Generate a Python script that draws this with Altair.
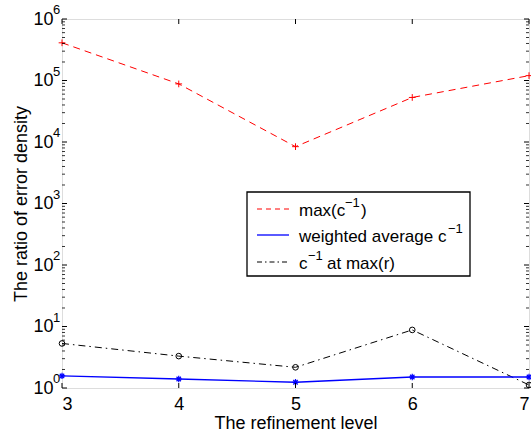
import altair as alt
import pandas as pd

# Refinement levels and the three ratio series (log scale)
levels = [3, 4, 5, 6, 7]
max_c_inv = [4.1e5, 8.8e4, 8.4e3, 5.3e4, 1.2e5]
weighted_avg_c_inv = [1.57, 1.40, 1.24, 1.51, 1.51]
c_inv_at_max_r = [5.3, 3.3, 2.17, 8.8, 1.12]

series_names = ["max", "weighted", "atmaxr"]
legend_rows = [
    ["max(c", "\u22121", ")"],
    ["weighted average c", "\u22121", ""],
    ["c", "\u22121", "at max(r)"],
]

y_major = [1, 10, 100, 1000, 10000, 100000, 1000000]
y_exponents = ["0", "1", "2", "3", "4", "5", "6"]
y_minor = [m * 10 ** k for k in range(6) for m in range(2, 10)]

W, H = 467, 369
FONT = "Liberation Sans"

df = pd.DataFrame({
    "level": levels * 3,
    "value": max_c_inv + weighted_avg_c_inv + c_inv_at_max_r,
    "series": sum([[s] * len(levels) for s in series_names], []),
})

xs = alt.Scale(domain=[3, 7], nice=False, zero=False)
ys = alt.Scale(type="log", domain=[1, 1e6], nice=False)

x_enc = alt.X("level:Q", scale=xs, axis=alt.Axis(
    values=levels, format="d", tickSize=0, grid=False, domain=False,
    labelFontSize=18, labelPadding=7, labelColor="black", labelFont=FONT,
    title="The refinement level", titleFontSize=18, titleFontWeight="normal",
    titleFont=FONT, titleColor="black", titlePadding=1))
y_enc = alt.Y("value:Q", scale=ys, axis=alt.Axis(
    values=y_major, labelExpr="'10'", tickSize=0, grid=False, domain=False,
    labelFontSize=18, labelPadding=9, labelColor="black", labelFont=FONT,
    labelBaseline="middle",
    title="The ratio of error density", titleFontSize=18, titleFontWeight="normal",
    titleFont=FONT, titleColor="black", titlePadding=2))

base = alt.Chart(df).encode(x=x_enc, y=y_enc)


def one(name):
    return base.transform_filter(alt.datum.series == name)


red_line = one("max").mark_line(color="#ff0000", strokeWidth=1, strokeDash=[7, 5])
red_pts = one("max").mark_point(shape="M-1,0L1,0M0,-1L0,1", color="#ff0000",
                                 filled=False, size=45, strokeWidth=1, opacity=1)
blue_line = one("weighted").mark_line(color="#0000ff", strokeWidth=1.3)
blue_pts = one("weighted").mark_point(
    shape="M-1,0L1,0M0,-1L0,1M-0.7,-0.7L0.7,0.7M-0.7,0.7L0.7,-0.7",
    color="#0000ff", filled=False, size=40, strokeWidth=1.2, opacity=1)
black_line = one("atmaxr").mark_line(color="black", strokeWidth=1,
                                      strokeDash=[7, 4, 1.5, 4])
black_pts = one("atmaxr").mark_point(shape="circle", color="black", filled=False,
                                      size=32, strokeWidth=1, opacity=1)

# Inward ticks on all four sides
xt = pd.DataFrame({"level": levels})
x_ticks_bottom = alt.Chart(xt).mark_rule(color="black", strokeWidth=1).encode(
    x=alt.X("level:Q", scale=xs), y=alt.value(H), y2=alt.value(H - 5))
x_ticks_top = alt.Chart(xt).mark_rule(color="black", strokeWidth=1).encode(
    x=alt.X("level:Q", scale=xs), y=alt.value(0), y2=alt.value(5))

ymj = pd.DataFrame({"value": y_major, "exp": y_exponents})
ymn = pd.DataFrame({"value": y_minor})
y_major_left = alt.Chart(ymj).mark_rule(color="black", strokeWidth=1).encode(
    y=alt.Y("value:Q", scale=ys), x=alt.value(0), x2=alt.value(5))
y_major_right = alt.Chart(ymj).mark_rule(color="black", strokeWidth=1).encode(
    y=alt.Y("value:Q", scale=ys), x=alt.value(W - 5), x2=alt.value(W))
y_minor_left = alt.Chart(ymn).mark_rule(color="black", strokeWidth=0.8).encode(
    y=alt.Y("value:Q", scale=ys), x=alt.value(0), x2=alt.value(3))
y_minor_right = alt.Chart(ymn).mark_rule(color="black", strokeWidth=0.8).encode(
    y=alt.Y("value:Q", scale=ys), x=alt.value(W - 3), x2=alt.value(W))
y_exp = alt.Chart(ymj).mark_text(align="left", baseline="middle", fontSize=13,
                                 font=FONT, color="black", dy=-9).encode(
    y=alt.Y("value:Q", scale=ys), x=alt.value(-9), text="exp:N")

# Legend box
one_row = pd.DataFrame({"k": [0]})
leg_box = alt.Chart(one_row).mark_rect(fill="white", stroke="black",
                                        strokeWidth=1.3).encode(
    x=alt.value(185), x2=alt.value(408), y=alt.value(173), y2=alt.value(257))

row_y = [190, 216, 243]
styles = [
    dict(color="#ff0000", strokeWidth=1, strokeDash=[5, 4]),
    dict(color="#0000ff", strokeWidth=1.3),
    dict(color="black", strokeWidth=1, strokeDash=[5, 3, 1.5, 3]),
]
legend_layers = [leg_box]
for i, (ry, st) in enumerate(zip(row_y, styles)):
    legend_layers.append(alt.Chart(one_row).mark_rule(**st).encode(
        x=alt.value(195), x2=alt.value(227), y=alt.value(ry), y2=alt.value(ry)))

tx = [[237, 283, 299], [237, 386, 0], [237, 246, 265]]
for i, (pieces, xpos, ry) in enumerate(zip(legend_rows, tx, row_y)):
    main1, sup, main2 = pieces
    legend_layers.append(alt.Chart(one_row).mark_text(
        align="left", baseline="alphabetic", fontSize=17, font=FONT,
        color="black").encode(x=alt.value(xpos[0]), y=alt.value(ry + 7),
                              text=alt.value(main1)))
    legend_layers.append(alt.Chart(one_row).mark_text(
        align="left", baseline="alphabetic", fontSize=13, font=FONT,
        color="black").encode(x=alt.value(xpos[1]), y=alt.value(ry - 2),
                              text=alt.value(sup)))
    if main2:
        legend_layers.append(alt.Chart(one_row).mark_text(
            align="left", baseline="alphabetic", fontSize=17, font=FONT,
            color="black").encode(x=alt.value(xpos[2]), y=alt.value(ry + 7),
                                  text=alt.value(main2)))

chart = alt.layer(
    red_line, black_line, blue_line, red_pts, black_pts, blue_pts,
    x_ticks_bottom, x_ticks_top, y_major_left, y_major_right,
    y_minor_left, y_minor_right, y_exp, *legend_layers,
).properties(
    width=W, height=H,
    autosize=alt.AutoSizeParams(type="none"),
    padding={"left": 62, "top": 19, "right": 2, "bottom": 47},
).configure_view(stroke="black", strokeWidth=1.3).configure(background="white")

chart.save("out.html", embed_options={"renderer": "svg", "actions": False})
